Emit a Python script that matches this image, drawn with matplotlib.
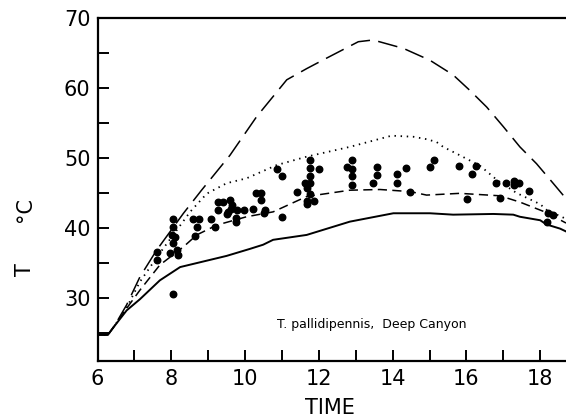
import matplotlib
matplotlib.use("Agg")
import matplotlib.pyplot as plt
from matplotlib.ticker import MultipleLocator

# temperature curves (time in hours, T in degC)
solid_x = [6.0, 6.28, 6.45, 6.79, 7.15, 7.69, 8.24, 8.87, 9.50, 10.13, 10.49, 10.76,
           11.67, 12.84, 14.02, 15.01, 15.64, 16.73, 17.27, 17.45, 18.0, 18.17, 18.54, 18.7]
solid_y = [24.7, 24.7, 25.9, 28.2, 29.8, 32.5, 34.4, 35.2, 36.0, 37.0, 37.6, 38.3,
           39.0, 40.9, 42.1, 42.1, 41.9, 42.0, 41.9, 41.6, 41.1, 40.5, 39.9, 39.5]

mdash_x = [6.0, 6.28, 6.45, 6.79, 7.15, 7.69, 8.33, 8.69, 9.23, 10.04, 10.76, 11.67,
           12.84, 13.66, 14.48, 14.92, 15.82, 16.91, 17.45, 18.17, 18.7]
mdash_y = [24.7, 24.7, 25.9, 28.5, 31.1, 34.7, 37.3, 39.0, 40.4, 41.6, 42.3, 44.5,
           45.4, 45.5, 45.2, 44.7, 44.95, 44.6, 43.7, 42.2, 40.7]

dot_x = [6.0, 6.28, 6.45, 6.79, 7.15, 7.69, 8.15, 8.51, 8.96, 9.50, 10.04, 10.86,
         11.67, 12.84, 13.97, 14.56, 14.92, 15.19, 15.37, 15.82, 16.37, 16.82, 17.36,
         18.0, 18.17, 18.7]
dot_y = [24.7, 24.7, 25.9, 28.6, 32.3, 36.4, 39.7, 42.3, 44.9, 46.4, 47.1, 49.0,
         50.2, 51.6, 53.2, 53.05, 52.7, 52.3, 51.6, 50.4, 48.9, 46.9, 45.0,
         43.4, 42.6, 41.3]

ldash_x = [6.0, 6.28, 6.45, 6.79, 7.15, 7.60, 8.33, 8.82, 9.59, 10.31, 11.13, 11.67,
           12.21, 13.07, 13.47, 14.29, 15.01, 15.64, 16.09, 16.55, 17.0, 17.45, 17.90,
           18.35, 18.7]
ldash_y = [24.7, 24.7, 25.9, 29.0, 33.0, 36.8, 42.1, 45.4, 50.4, 55.9, 61.2, 62.8,
           64.3, 66.65, 66.9, 65.7, 64.0, 61.9, 59.7, 57.3, 54.5, 51.6, 49.2,
           46.4, 44.2]

# body temperatures of the cicadas
obs_t = [7.60, 7.60, 8.05, 8.05, 8.03, 8.10, 8.04, 7.96, 8.16, 8.19, 8.05,
         8.60, 8.76, 8.70, 8.64, 9.08, 9.18,
         9.27, 9.41, 9.27, 9.59, 9.64, 9.54, 9.50, 9.62, 9.77, 9.75, 9.75,
         9.97, 10.22, 10.30, 10.42, 10.42, 10.54, 10.50,
         10.87, 10.99, 10.99,
         11.41, 11.62, 11.67, 11.67, 11.67, 11.76, 11.76, 11.76, 11.76, 11.76, 11.87, 12.0,
         12.75, 12.91, 12.91, 12.89, 12.89,
         13.47, 13.57, 13.57,
         14.13, 14.13, 14.35, 14.47,
         15.02, 15.13,
         15.80, 16.14, 16.26, 16.02,
         16.79, 16.91, 17.06, 17.30, 17.30, 17.43, 17.69,
         18.22, 18.35, 18.19]
obs_T = [36.6, 35.4, 41.3, 40.2, 39.0, 38.7, 37.8, 36.4, 36.8, 36.1, 30.5,
         41.3, 41.3, 40.2, 38.8, 41.3, 40.2,
         43.7, 43.7, 42.5, 44.0, 43.3, 42.3, 42.0, 42.7, 42.5, 41.4, 40.9,
         42.5, 42.7, 45.0, 45.0, 44.0, 42.5, 42.2,
         48.5, 47.4, 41.5,
         45.2, 46.4, 45.7, 43.8, 43.4, 49.7, 48.6, 47.4, 46.4, 44.9, 43.8, 48.4,
         48.7, 49.7, 48.5, 47.4, 46.2,
         46.4, 48.7, 47.6,
         47.7, 46.4, 48.6, 45.2,
         48.75, 49.7,
         48.9, 47.7, 48.85, 44.1,
         46.4, 44.3, 46.4, 46.75, 46.1, 46.5, 45.3,
         42.1, 41.9, 40.8]

fig = plt.figure(figsize=(5.66, 4.2), dpi=100)
ax = fig.add_axes([0.1723, 0.1412, 0.8277, 0.8152])

ax.plot(solid_x, solid_y, color='black', lw=1.4)
ax.plot(mdash_x, mdash_y, color='black', lw=1.1, dashes=(6, 3.5))
ax.plot(dot_x, dot_y, color='black', lw=1.3, dashes=(0.8, 2.6))
ax.plot(ldash_x, ldash_y, color='black', lw=1.1, dashes=(13, 5.5))
ax.scatter(obs_t, obs_T, s=22, color='black', zorder=3)

ax.set_xlim(6, 18.7)
ax.set_ylim(21, 70)
ax.xaxis.set_major_locator(MultipleLocator(2))
ax.xaxis.set_minor_locator(MultipleLocator(1))
ax.yaxis.set_major_locator(MultipleLocator(10))
ax.yaxis.set_minor_locator(MultipleLocator(5))
ax.set_yticks([30, 40, 50, 60, 70])
ax.tick_params(which='both', direction='in', length=8, width=1.4, labelsize=15)
ax.tick_params(axis='x', pad=6)
ax.tick_params(axis='y', pad=5)
ax.spines['right'].set_visible(False)
for s in ['left', 'bottom', 'top']:
    ax.spines[s].set_linewidth(1.6)

ax.text(13.44, 26.2, 'T. pallidipennis,  Deep Canyon', fontsize=9,
        ha='center', va='center')

fig.text(330/566, 1 - 408/420, 'TIME', fontsize=15, ha='center', va='center')
fig.text(25/566, 1 - 270/420, 'T', fontsize=15, rotation=90, ha='center', va='center')
fig.text(25/566, 1 - 209/420, '°C', fontsize=15, rotation=90, ha='center', va='center')

fig.savefig('out.png', dpi=100)
